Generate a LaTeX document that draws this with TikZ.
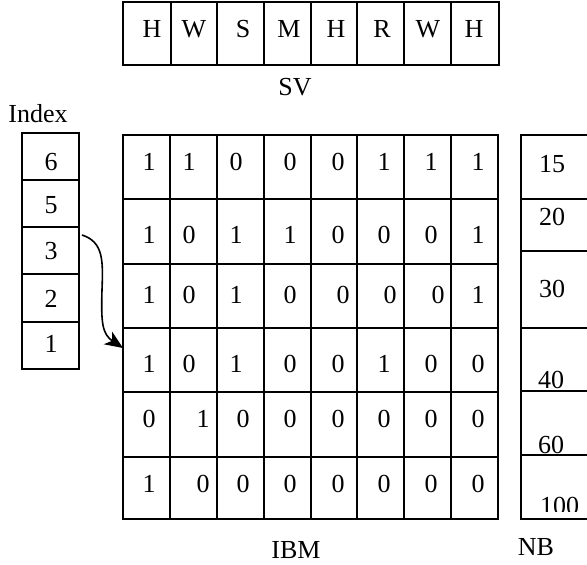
\documentclass[tikz,border=0pt]{standalone}
\usepackage{fontspec}
\setmainfont{Liberation Serif}
\usetikzlibrary{arrows.meta,calc}
\begin{document}
\begin{tikzpicture}[x=1pt,y=-1pt,
  cell/.style={draw,line width=1.7pt,rectangle,inner sep=0pt,outer sep=0pt,anchor=north west},
  txt/.style={font=\fontsize{26}{30}\selectfont,inner sep=0pt,anchor=base},
  ltxt/.style={txt,anchor=base west},
  link/.style={line width=1.6pt,-{Stealth[length=18pt,width=15pt,inset=5pt]}}]
\useasboundingbox (0,0) rectangle (587,565);

% SV
\foreach \x/\w/\t/\tx [count=\c] in {123/48/H/152,171/46/W/194,217/47/S/243,264/47/M/289,311/46/H/336,357/47/R/382,404/47/W/428,451/48/H/474}{
  \node[cell,minimum width=\w pt,minimum height=63pt] (sv\c) at (\x,2) {};
  \node[txt] (svt\c) at (\tx,37) {\t};
}
\node[txt] (svlab) at (295,95) {SV};

% Index
\node[txt] (idxlab) at (38,122) {Index};
\foreach \y/\h/\n/\b in {133/47/6/170,180/47/5/213,227/47/3/259,274/48/2/307,322/47/1/352}{
  \node[cell,minimum width=57pt,minimum height=\h pt] (idx\n) at (22,\y) {};
  \node[txt] (idxt\n) at (51,\b) {\n};
}

% IBM grid
\def\cols{123/47/1,170/47/2,217/47/3,264/47/4,311/46/5,357/47/6,404/47/7,451/47/8}
\foreach \y/\h/\r in {135/64/1,199/65/2,264/64/3,328/64/4,392/65/5,457/62/6}{
  \foreach \x/\w/\c in \cols {
    \node[cell,minimum width=\w pt,minimum height=\h pt] (m\r\c) at (\x,\y) {};
  }
}
\foreach \x/\v [count=\c] in {149/1,189/1,236/0,290/0,338/0,384/1,431/1,478/1}
  \node[txt] (t1\c) at (\x,170) {\v};
\foreach \x/\v [count=\c] in {149/1,189/0,236/1,290/1,338/0,384/0,431/0,478/1}
  \node[txt] (t2\c) at (\x,243) {\v};
\foreach \x/\v [count=\c] in {149/1,189/0,236/1,290/0,343/0,390/0,438/0,478/1}
  \node[txt] (t3\c) at (\x,303) {\v};
\foreach \x/\v [count=\c] in {149/1,189/0,236/1,290/0,338/0,384/1,431/0,478/0}
  \node[txt] (t4\c) at (\x,372) {\v};
\foreach \x/\v [count=\c] in {149/0,203/1,243/0,290/0,338/0,384/0,431/0,478/0}
  \node[txt] (t5\c) at (\x,427) {\v};
\foreach \x/\v [count=\c] in {149/1,203/0,243/0,290/0,338/0,384/0,431/0,478/0}
  \node[txt] (t6\c) at (\x,492) {\v};
\node[txt] (ibmlab) at (296,558) {IBM};

% NB
\foreach \y/\h/\r in {135/64/1,199/52/2,251/77/3,328/63/4,391/64/5,455/64/6}{
  \node[cell,minimum width=90pt,minimum height=\h pt] (nb\r) at (521,\y) {};
}
\node[ltxt] (nbt1) at (539,172) {15};
\node[ltxt] (nbt2) at (539,225) {20};
\node[ltxt] (nbt3) at (539,297) {30};
\node[ltxt] (nbt4) at (538,388) {40};
\node[ltxt] (nbt5) at (538,453) {60};
\begin{scope}
  \clip (522,456) rectangle (587,511);
  \node[ltxt] (nbt6) at (540,514) {100};
\end{scope}
\node[txt] (nblab) at (536,555) {NB};

% arrow
\draw[link] ([xshift=3pt,yshift=-8pt]idx3.north east)
  .. controls (104,242) and (103,262) .. (102,290)
  .. controls (101,322) and (102,334) .. ([yshift=-20pt]m41.north west);
\end{tikzpicture}
\end{document}
